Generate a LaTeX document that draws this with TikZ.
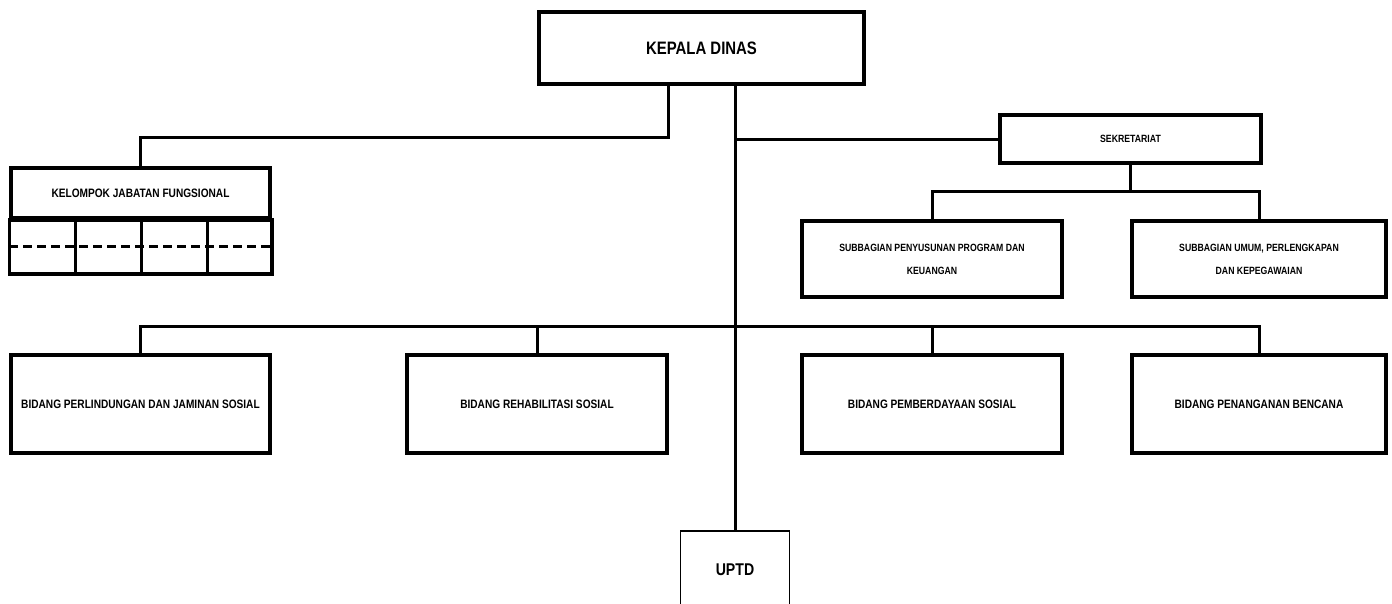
\documentclass[tikz,border=0pt]{standalone}
\usepackage{fontspec}
\setmainfont{Liberation Sans}[FakeStretch=0.83]
\begin{document}
\begin{tikzpicture}[x=1pt,y=-1pt,
  box/.style={draw,line width=3.5pt,rectangle,inner sep=0pt,align=center,font=\bfseries\fontsize{12.2}{14}\selectfont},
  smallbox/.style={box,font=\bfseries\fontsize{10.5}{13}\selectfont},
  bigbox/.style={box,font=\bfseries\fontsize{18}{20}\selectfont},
  conn/.style={line width=3pt},
  dashline/.style={line width=3pt,dash pattern=on 9pt off 5pt}]
\useasboundingbox (0,0) rectangle (1392,603);
\begin{scope}
\clip (0,0) rectangle (1392,603);
\node[bigbox,minimum width=325pt,minimum height=72pt] (kd) at (701.5,48) {KEPALA DINAS};
\node[smallbox,minimum width=261pt,minimum height=48pt] (sek) at (1130.5,139) {SEKRETARIAT};
\node[smallbox,minimum width=260pt,minimum height=76pt] (sp) at (932,259) {SUBBAGIAN PENYUSUNAN PROGRAM DAN\\[10pt]KEUANGAN};
\node[smallbox,minimum width=254pt,minimum height=76pt] (su) at (1259,259) {SUBBAGIAN UMUM, PERLENGKAPAN\\[10pt]DAN KEPEGAWAIAN};
\node[box,minimum width=259pt,minimum height=50pt] (kj) at (140.5,193) {KELOMPOK JABATAN FUNGSIONAL};
\node[box,minimum width=259pt,minimum height=98pt] (b1) at (140.5,404) {BIDANG PERLINDUNGAN DAN JAMINAN SOSIAL};
\node[box,minimum width=260pt,minimum height=98pt] (b2) at (537,404) {BIDANG REHABILITASI SOSIAL};
\node[box,minimum width=260pt,minimum height=98pt] (b3) at (932,404) {BIDANG PEMBERDAYAAN SOSIAL};
\node[box,minimum width=254pt,minimum height=98pt] (b4) at (1259,404) {BIDANG PENANGANAN BENCANA};
\node[draw,line width=1.6pt,rectangle,inner sep=0pt,minimum width=109pt,minimum height=100pt] (uptd) at (735,581) {};
\node[font=\bfseries\fontsize{17}{19}\selectfont] (uptdlabel) at (735,570) {UPTD};
% grid below kelompok jabatan fungsional
\coordinate (kjb) at ([yshift=-54pt]kj.south east);
\draw[line width=3.5pt] (kj.south west) rectangle (kjb);
\draw[dashline] ([yshift=-27pt]kj.south west) -- ([yshift=-27pt]kj.south east);
\foreach \xx in {75,141,207}{
  \draw[conn] (\xx,218) -- (\xx,272);
}
% connectors
\coordinate (kdl) at ([xshift=-33.5pt]kd.south);
\coordinate (kdr) at ([xshift=33.5pt]kd.south);
\coordinate (bus) at (735,326);
\draw[conn] (kdl) -- ++(0,52) -| (kj.north);
\draw[conn] (kdr) -- (uptd.north);
\draw[conn] (sek.west) -- (sek.west -| kdr);
\draw[conn] (sek.south) -- ++(0,27) -| (sp.north);
\draw[conn] (sek.south) -- ++(0,27) -| (su.north);
\draw[conn] (b1.north) -- (b1.north |- bus) -- (b4.north |- bus) -- (b4.north);
\draw[conn] (b2.north) -- (b2.north |- bus);
\draw[conn] (b3.north) -- (b3.north |- bus);
\end{scope}
\end{tikzpicture}
\end{document}
